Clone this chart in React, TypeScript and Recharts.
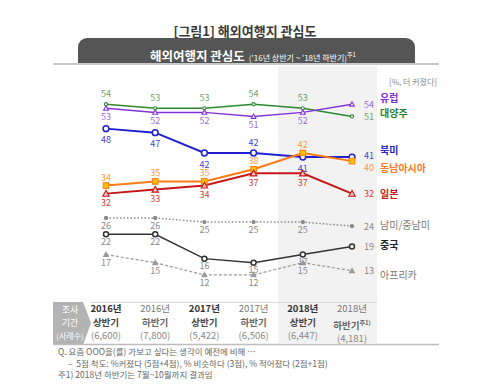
import React from 'react';
import { LineChart, Line, XAxis, YAxis, LabelList } from 'recharts';

// 조사 기간
const periods = ['2016상', '2016하', '2017상', '2017하', '2018상', '2018하'];
const yearLabels = ['2016년', '2016년', '2017년', '2017년', '2018년', '2018년'];
const halfLabels = ['상반기', '하반기', '상반기', '하반기', '상반기', '하반기'];
const sampleLabels = ['(6,600)', '(7,800)', '(5,422)', '(6,506)', '(6,447)', '(4,181)'];

// 지역별 관심도 (%, 더 커졌다)
const oceania = [54, 53, 53, 54, 53, 51];
const europe = [53, 52, 52, 51, 52, 54];
const northAmerica = [48, 47, 42, 42, 41, 41];
const southeastAsia = [34, 35, 35, 38, 42, 40];
const japan = [32, 33, 34, 37, 37, 32];
const latinAmerica = [26, 26, 25, 25, 25, 24];
const china = [22, 22, 16, 15, 17, 19];
const africa = [17, 15, 12, 12, 15, 13];

const data = periods.map((p, i) => ({
  period: p,
  oceania: oceania[i],
  europe: europe[i],
  northAmerica: northAmerica[i],
  southeastAsia: southeastAsia[i],
  japan: japan[i],
  latinAmerica: latinAmerica[i],
  china: china[i],
  africa: africa[i],
}));

const FONT = '"Noto Sans CJK KR", "Noto Sans", sans-serif';

type Series = {
  key: string;
  name: string;
  stroke: string;
  width: number;
  dash?: string;
  shape: 'circle' | 'smallCircle' | 'square' | 'triangle' | 'smallTriangle';
  fill: string;
  labelColor: string;
  dy: number; // 라벨 위치 (+ 아래, - 위)
  flip?: number[]; // 반대쪽에 라벨
  lastDy?: number;
  legendY: number;
  legendColor: string;
  legendBold?: boolean;
};

const series: Series[] = [
  { key: 'oceania', name: '대양주', stroke: '#2f8a2f', width: 1.5, shape: 'smallCircle', fill: '#ffffff', labelColor: '#6f9f6f', dy: -11, legendY: 113, legendColor: '#2a7d2a', legendBold: true },
  { key: 'europe', name: '유럽', stroke: '#8033d9', width: 1.5, shape: 'smallTriangle', fill: '#ffffff', labelColor: '#9b6fd6', dy: 8, legendY: 98, legendColor: '#7b2fd6', legendBold: true },
  { key: 'northAmerica', name: '북미', stroke: '#1f1fd0', width: 2, shape: 'circle', fill: '#ffffff', labelColor: '#4545cf', dy: 11, flip: [3], lastDy: -2, legendY: 150, legendColor: '#2424c4', legendBold: true },
  { key: 'southeastAsia', name: '동남아시아', stroke: '#ff7a14', width: 2, shape: 'square', fill: '#ffc000', labelColor: '#ff9a45', dy: -8.5, lastDy: 6, legendY: 168, legendColor: '#ff7a22', legendBold: true },
  { key: 'japan', name: '일본', stroke: '#c41818', width: 2, shape: 'triangle', fill: '#f6c6c6', labelColor: '#d23c3c', dy: 9, legendY: 194, legendColor: '#c41818', legendBold: true },
  { key: 'latinAmerica', name: '남미/중남미', stroke: '#8a8a8a', width: 1.5, dash: '1.5 2', shape: 'smallCircle', fill: '#8a8a8a', labelColor: '#8a8a8a', dy: 7, legendY: 225, legendColor: '#777777' },
  { key: 'china', name: '중국', stroke: '#333333', width: 1.5, shape: 'circle', fill: '#ffffff', labelColor: '#8a8a8a', dy: 7, legendY: 245, legendColor: '#222222', legendBold: true },
  { key: 'africa', name: '아프리카', stroke: '#9a9a9a', width: 1.2, dash: '3 2', shape: 'smallTriangle', fill: '#9a9a9a', labelColor: '#8a8a8a', dy: 8, legendY: 275, legendColor: '#777777' },
];

const makeDot = (s: Series) => (props: any) => {
  const { cx, cy, index } = props;
  const k = `${s.key}-${index}`;
  if (s.shape === 'circle') {
    const r = s.key === 'china' ? 2.5 : 2.9;
    return <circle key={k} cx={cx} cy={cy} r={r} fill={s.fill} stroke={s.stroke} strokeWidth={1.5} />;
  }
  if (s.shape === 'smallCircle') {
    return <circle key={k} cx={cx} cy={cy} r={1.6} fill={s.fill} stroke={s.stroke} strokeWidth={1.1} />;
  }
  if (s.shape === 'square') {
    return <rect key={k} x={cx - 2.8} y={cy - 2.8} width={5.6} height={5.6} fill={s.fill} stroke={s.stroke} strokeWidth={1} />;
  }
  const h = s.shape === 'triangle' ? 3.2 : 2.4;
  return (
    <polygon
      key={k}
      points={`${cx},${cy - h} ${cx - h},${cy + h * 0.8} ${cx + h},${cy + h * 0.8}`}
      fill={s.fill}
      stroke={s.stroke}
      strokeWidth={1.1}
    />
  );
};

const makeLabel = (s: Series) => (props: any) => {
  const { x, y, value, index } = props;
  const last = index === periods.length - 1;
  if (last) {
    return (
      <text key={`l-${s.key}-${index}`} x={x + 12} y={y + (s.lastDy || 0)} fill={s.labelColor} fontSize={9} dominantBaseline="central" fontFamily={FONT}>
        {value}
      </text>
    );
  }
  const dy = s.flip && s.flip.includes(index) ? -s.dy : s.dy;
  return (
    <text key={`l-${s.key}-${index}`} x={x} y={y + dy} fill={s.labelColor} fontSize={9} textAnchor="middle" dominantBaseline="central" fontFamily={FONT}>
      {value}
    </text>
  );
};

const colX = (i: number) => 106 + i * 49.2;

const App: React.FC = () => {
  return (
    <div style={{ position: 'absolute', left: 0, top: 0, width: 480, height: 392, background: '#fff', fontFamily: FONT, overflow: 'hidden' }}>
      {/* 제목 */}
      <div style={{ position: 'absolute', left: 0, width: 490, top: 21, textAlign: 'center', fontSize: 13, fontWeight: 700, color: '#3a3a3a' }}>
        [그림1] 해외여행지 관심도
      </div>
      <div style={{ position: 'absolute', left: 78, top: 38, width: 337, height: 26, background: '#555555', borderRadius: '9px 9px 0 0' }} />
      <div style={{ position: 'absolute', left: 150, top: 42, color: '#fff', whiteSpace: 'nowrap' }}>
        <span style={{ fontSize: 12.5, fontWeight: 700 }}>해외여행지 관심도</span>
        <span style={{ fontSize: 8, marginLeft: 4 }}>('16년 상반기 ~ '18년 하반기)<sup style={{ fontSize: 6 }}>주1</sup></span>
      </div>
      <div style={{ position: 'absolute', left: 53, top: 63, width: 386, height: 2, background: '#c8c8c8' }} />

      {/* 2018년 음영 */}
      <div style={{ position: 'absolute', left: 278, top: 66, width: 99, height: 277, background: '#f2f2f2' }} />
      <div style={{ position: 'absolute', left: 389, top: 76, fontSize: 8, color: '#888' }}>[%, 더 커졌다]</div>

      <div style={{ position: 'absolute', left: 0, top: 0 }}>
        <LineChart width={480} height={392} data={data} margin={{ top: 88, right: 128, bottom: 109, left: 106 }}>
          <XAxis dataKey="period" hide />
          <YAxis hide domain={[10, 58]} allowDataOverflow />
          {series.map((s) => (
            <Line
              key={s.key}
              dataKey={s.key}
              name={s.name}
              stroke={s.stroke}
              strokeWidth={s.width}
              strokeDasharray={s.dash}
              dot={makeDot(s)}
              activeDot={false}
              isAnimationActive={false}
            >
              <LabelList dataKey={s.key} content={makeLabel(s)} />
            </Line>
          ))}
        </LineChart>
      </div>

      {/* 범례 */}
      {series.map((s) => (
        <div
          key={`lg-${s.key}`}
          style={{ position: 'absolute', left: 380, top: s.legendY - 8, fontSize: 10, fontWeight: s.legendBold ? 700 : 400, color: s.legendColor, whiteSpace: 'nowrap' }}
        >
          {s.name}
        </div>
      ))}

      {/* 조사 기간 표 */}
      <svg style={{ position: 'absolute', left: 0, top: 0 }} width={480} height={392}>
        <polygon points="53,302 83,302 91,323 83,345 53,345" fill="#b3b3b3" />
        <line x1={91} y1={302.5} x2={377} y2={302.5} stroke="#d8d8d8" strokeWidth={1} />
        <line x1={53} y1={344.5} x2={439} y2={344.5} stroke="#bdbdbd" strokeWidth={1.5} />
      </svg>
      <div style={{ position: 'absolute', left: 53, top: 303, width: 34, textAlign: 'center', color: '#fff', fontSize: 9, lineHeight: '13px' }}>
        <div>조사</div>
        <div>기간</div>
        <div style={{ fontSize: 8 }}>(사례수)</div>
      </div>
      {periods.map((p, i) => {
        const first = i % 2 === 0;
        return (
          <div key={`c-${p}`} style={{ position: 'absolute', left: colX(i) - 30, top: 302, width: 60, textAlign: 'center', lineHeight: '13.5px', whiteSpace: 'nowrap' }}>
            <div style={{ fontSize: 9.5, fontWeight: first ? 700 : 400, color: first ? '#333' : '#777' }}>{yearLabels[i]}</div>
            <div style={{ fontSize: 9.5, fontWeight: 700, color: first ? '#444' : '#666' }}>
              {halfLabels[i]}
              {i === 5 && <sup style={{ fontSize: 6 }}>주1)</sup>}
            </div>
            <div style={{ fontSize: 9.5, color: '#888' }}>{sampleLabels[i]}</div>
          </div>
        );
      })}

      {/* 주석 */}
      <div style={{ position: 'absolute', left: 58, top: 346, fontSize: 8.5, color: '#666', lineHeight: '11.5px', whiteSpace: 'nowrap' }}>
        <div>Q. 요즘 OOO을(를) 가보고 싶다는 생각이 예전에 비해 …</div>
        <div style={{ paddingLeft: 10 }}>–&nbsp; 5점 척도: %커졌다 (5점+4점), % 비슷하다 (3점), % 적어졌다 (2점+1점)</div>
        <div>주1) 2018년 하반기는 7월~10월까지 결과임</div>
      </div>
    </div>
  );
};

export default App;
